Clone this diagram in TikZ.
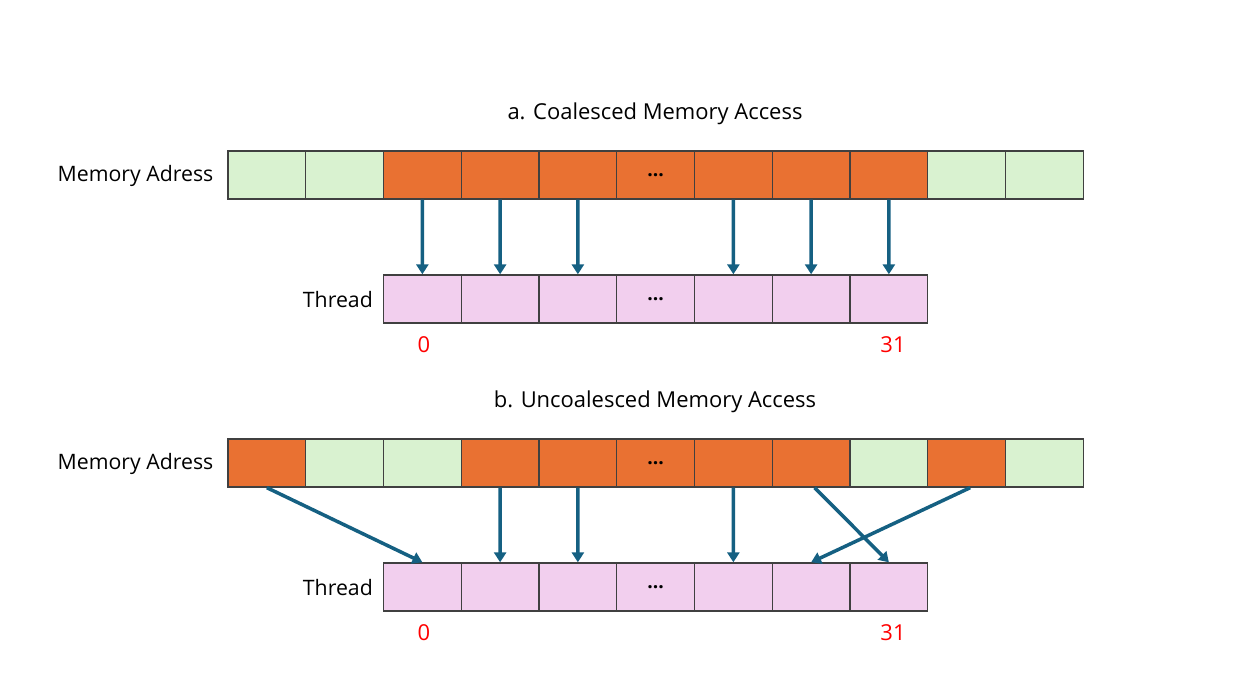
\documentclass[tikz,border=0pt]{standalone}
\usepackage{fontspec}
\setmainfont{Open Sans}
\usepackage{tikz}
\usetikzlibrary{arrows.meta,positioning}
\definecolor{memorg}{HTML}{E97132}
\definecolor{memgrn}{HTML}{D9F2D0}
\definecolor{thrpink}{HTML}{F2CFEE}
\definecolor{arrblue}{HTML}{156082}
\definecolor{celledge}{HTML}{404040}

\begin{document}
\begin{tikzpicture}[
  cell/.style={rectangle,draw=celledge,line width=0.8pt,minimum width=1.555cm,
               minimum height=0.96cm,inner sep=0pt,font=\fontsize{11}{13}\selectfont\bfseries},
  arr/.style={-{Triangle[width=6.8pt,length=5.6pt]},draw=arrblue,line width=2pt},
  title/.style={font=\fontsize{12.5}{15}\selectfont},
  rowlbl/.style={font=\fontsize{12.1}{14}\selectfont},
  idx/.style={font=\fontsize{12.5}{15}\selectfont,text=red}
]
\useasboundingbox (0,0) rectangle (24.66,-13.84);

% a. coalesced
\node[title] (titlea) at (13.1,-2.28) {a. Coalesced Memory Access};
\node[rowlbl,anchor=west] (memlbla) at (1.03,-3.52) {Memory Adress};
\foreach \c [count=\i] in {memgrn,memgrn,memorg,memorg,memorg,memorg,memorg,memorg,memorg,memgrn,memgrn}
  \node[cell,fill=\c] (ma\i) at ({4.56+(\i-0.5)*1.555},-3.5) {\ifnum\i=6 ...\fi};
\node[rowlbl,anchor=east] (thrlbla) at (7.58,-6.0) {Thread};
\foreach \i in {1,...,7}
  \node[cell,fill=thrpink] (ta\i) at ({7.67+(\i-0.5)*1.555},-5.98) {\ifnum\i=4 ...\fi};
\node[idx] (firsta) at (8.48,-6.9) {0};
\node[idx] (lasta) at (17.86,-6.9) {31};

\draw[arr] (ma3.south) -- (ta1.north);
\draw[arr] (ma4.south) -- (ta2.north);
\draw[arr] (ma5.south) -- (ta3.north);
\draw[arr] (ma7.south) -- (ta5.north);
\draw[arr] (ma8.south) -- (ta6.north);
\draw[arr] (ma9.south) -- (ta7.north);

% b. uncoalesced
\node[title] (titleb) at (13.1,-8.04) {b. Uncoalesced Memory Access};
\node[rowlbl,anchor=west] (memlblb) at (1.03,-9.28) {Memory Adress};
\foreach \c [count=\i] in {memorg,memgrn,memgrn,memorg,memorg,memorg,memorg,memorg,memgrn,memorg,memgrn}
  \node[cell,fill=\c] (mb\i) at ({4.56+(\i-0.5)*1.555},-9.26) {\ifnum\i=6 ...\fi};
\node[rowlbl,anchor=east] (thrlblb) at (7.58,-11.76) {Thread};
\foreach \i in {1,...,7}
  \node[cell,fill=thrpink] (tb\i) at ({7.67+(\i-0.5)*1.555},-11.74) {\ifnum\i=4 ...\fi};
\node[idx] (firstb) at (8.48,-12.66) {0};
\node[idx] (lastb) at (17.86,-12.66) {31};

\draw[arr] (mb1.south) -- (tb1.north);
\draw[arr] (mb4.south) -- (tb2.north);
\draw[arr] (mb5.south) -- (tb3.north);
\draw[arr] (mb7.south) -- (tb5.north);
\draw[arr] ([xshift=2pt]mb8.south) -- (tb7.north);
\draw[arr] ([xshift=2pt]mb10.south) -- (tb6.north);
\end{tikzpicture}
\end{document}
